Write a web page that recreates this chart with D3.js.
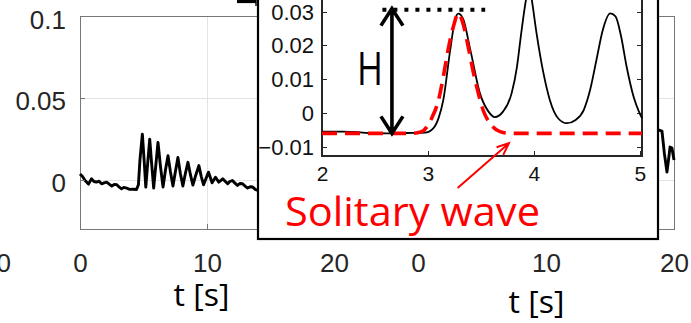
<!DOCTYPE html>
<html>
<head>
<meta charset="utf-8">
<script src="https://cdn.jsdelivr.net/npm/d3@7"></script>
<style>
  html, body { margin: 0; padding: 0; background: #fff; }
  svg { display: block; }
  .tick line { shape-rendering: crispEdges; }
</style>
</head>
<body>
<div id="chart"></div>
<script>
// ---- data ----
// left record (t in s, elevation in m)
var leftTime = [0, 0.2, 0.4, 0.67, 0.9, 1.1, 1.3, 1.5, 1.7, 1.9, 2.1, 2.3, 2.5, 2.7, 2.9, 3.1, 3.27, 3.45, 3.66, 3.9,
    4.2, 4.45, 4.6, 4.72, 4.91, 5.05, 5.18, 5.33, 5.49, 5.64, 5.8, 5.97, 6.14, 6.34, 6.54, 6.73, 6.93, 7.12, 7.32,
    7.51, 7.71, 7.9, 8.1, 8.3, 8.5, 8.7, 8.89, 9.12, 9.36, 9.55, 9.73, 9.93, 10.12, 10.4, 10.67, 10.93, 11.24,
    11.45, 11.63, 11.8, 12.0, 12.2, 12.4, 12.6, 12.8, 13.0, 13.2, 13.4, 13.6, 13.8, 14.0, 14.4];
var leftElev = [0.0036, 0.002, -0.0004, -0.0026, 0.0006, -0.001, -0.0014, -0.0008, -0.0024, -0.0018, -0.0014, -0.0026,
    -0.0038, -0.0028, -0.003, -0.0045, -0.0055, -0.0046, -0.005, -0.0058, -0.0057, -0.0059, -0.003, 0.012, 0.0279,
    0.012, -0.0044, 0.010, 0.0248, 0.010, -0.005, 0.009, 0.0228, 0.008, -0.0044, 0.006, 0.0147, 0.005, -0.0038,
    0.005, 0.0137, 0.004, -0.0038, 0.004, 0.0107, 0.003, -0.0032, 0.003, 0.0087, 0.002, -0.003, 0.001, 0.0047,
    -0.0018, 0.0016, -0.0014, 0.0006, -0.001, -0.0024, -0.001, -0.0004, -0.002, -0.0034, -0.0022, -0.0024,
    -0.0038, -0.005, -0.0042, -0.0044, -0.0058, -0.0065, -0.006];
// right record, only the tail is visible next to the inset
var rightTime = [18.3, 18.6, 18.83, 19.06, 19.25, 19.45, 19.6, 19.69, 19.84, 20];
var rightElev = [0.026, 0.029, 0.0304, 0.0298, 0.016, 0.0048, 0.014, 0.020, 0.0194, 0.0121];
// inset: measured record, zoomed on t = 2..5 s
var insetTime = [2.0, 2.2, 2.36, 2.5, 2.66, 2.8, 2.97, 3.05, 3.1, 3.145, 3.21, 3.255, 3.286, 3.33, 3.4, 3.49, 3.57,
    3.63, 3.71, 3.79, 3.84, 3.88, 3.925, 3.955, 3.98, 4.025, 4.09, 4.15, 4.23, 4.31, 4.39, 4.47, 4.53, 4.59,
    4.65, 4.72, 4.77, 4.82, 4.875, 4.94, 4.99, 5.02];
var insetElev = [-0.0055, -0.0055, -0.0057, -0.006, -0.006, -0.0059, -0.0058, -0.0045, -0.0015, 0.0039, 0.0187,
    0.0275, 0.0294, 0.028, 0.0187, 0.0059, 0.0005, -0.0012, 0.0005, 0.0059, 0.0137, 0.0236, 0.0335, 0.038,
    0.0335, 0.0236, 0.0118, 0.0039, -0.0016, -0.003, -0.0021, 0.0009, 0.0068, 0.0157, 0.0246, 0.0295, 0.0286,
    0.0231, 0.0137, 0.0049, 0.0005, -0.0015];
// inset: fitted solitary wave
var solTime = [2.0, 2.5, 2.85, 2.94, 3.035, 3.1, 3.145, 3.19, 3.24, 3.286, 3.33, 3.38, 3.43, 3.475, 3.52, 3.585,
    3.68, 3.77, 4.2, 5.02];
var solElev = [-0.006, -0.006, -0.006, -0.0055, -0.0015, 0.0039, 0.0108, 0.0187, 0.0256, 0.0295, 0.0266, 0.0196,
    0.0118, 0.0059, 0.0009, -0.003, -0.0055, -0.006, -0.006, -0.006];
// wave height annotation (H) : crest level, trough level, t of arrow, extent of dotted line
var hCrest = 0.0306, hTrough = -0.006, hTime = 2.66, hLineFrom = 2.57, hLineTo = 3.54;
// tick labels
var mainXTicks = [0, 10, 20];
var mainYTicks = [0, 0.05, 0.1];
var insetXTicks = [2, 3, 4, 5];
var insetYTicks = [-0.01, 0, 0.01, 0.02, 0.03];

var width = 691, height = 323;
var tickFont = "'Liberation Sans', Arial, sans-serif";
var labelFont = "'Open Sans', 'Noto Sans', sans-serif";
var fmt = d3.format('~g');

var svg = d3.select('#chart').append('svg')
    .attr('width', width)
    .attr('height', height);
svg.append('rect').attr('width', width).attr('height', height).attr('fill', '#fff');

// scales (both main panels share the same y range)
var y = d3.scaleLinear().domain([-0.03, 0.1]).range([229, 16]);
var xLeft = d3.scaleLinear().domain([0, 20]).range([80, 334]);
var xRight = d3.scaleLinear().domain([0, 20]).range([418, 674]);
var xPrev = d3.scaleLinear().domain([0, 20]).range([-258, -4]); // panel cut off on the left

function zip(ts, vs) { return ts.map(function (t, i) { return [t, vs[i]]; }); }

function drawPanel(xs, time, elev) {
    var g = svg.append('g');
    var x0 = xs.range()[0], x1 = xs.range()[1];
    // grid
    g.append('g')
        .attr('transform', 'translate(0,' + y.range()[0] + ')')
        .call(d3.axisBottom(xs).tickValues(mainXTicks).tickSize(-(y.range()[0] - y.range()[1])).tickFormat(''))
        .call(function (a) { a.select('.domain').remove(); a.selectAll('line').attr('stroke', '#e3e3e3'); });
    g.append('g')
        .attr('transform', 'translate(' + x0 + ',0)')
        .call(d3.axisLeft(y).tickValues(mainYTicks).tickSize(-(x1 - x0)).tickFormat(''))
        .call(function (a) { a.select('.domain').remove(); a.selectAll('line').attr('stroke', '#e3e3e3'); });
    // box
    g.append('rect')
        .attr('x', x0).attr('y', y.range()[1])
        .attr('width', x1 - x0).attr('height', y.range()[0] - y.range()[1])
        .attr('fill', 'none').attr('stroke', '#777').attr('stroke-width', 1)
        .attr('shape-rendering', 'crispEdges');
    // record
    g.append('path')
        .datum(zip(time, elev))
        .attr('fill', 'none')
        .attr('stroke', '#000')
        .attr('stroke-width', 2.9)
        .attr('stroke-linejoin', 'round')
        .attr('d', d3.line().x(function (d) { return xs(d[0]); }).y(function (d) { return y(d[1]); }));
    // x tick labels
    g.append('g')
        .attr('transform', 'translate(0,' + y.range()[0] + ')')
        .call(d3.axisBottom(xs).tickValues(mainXTicks).tickSize(-5).tickFormat(fmt))
        .call(function (a) {
            a.select('.domain').remove();
            a.selectAll('line').attr('stroke', '#777');
            a.selectAll('text').attr('dy', null).attr('y', 43)
                .attr('fill', '#262626').style('font', '26px ' + tickFont);
        });
    return g;
}

drawPanel(xLeft, leftTime, leftElev);
drawPanel(xRight, rightTime, rightElev);

// y tick labels of the left panel
svg.append('g')
    .attr('transform', 'translate(' + xLeft.range()[0] + ',0)')
    .call(d3.axisLeft(y).tickValues(mainYTicks).tickSize(-5).tickPadding(14).tickFormat(fmt))
    .call(function (a) {
        a.select('.domain').remove();
        a.selectAll('line').attr('stroke', '#777');
        a.selectAll('text').attr('dy', null).attr('y', 12)
            .attr('fill', '#262626').style('font', '26px ' + tickFont);
    });

// last label of the panel that is cut off on the left
svg.append('g')
    .attr('transform', 'translate(0,' + y.range()[0] + ')')
    .call(d3.axisBottom(xPrev).tickValues([20]).tickSize(0).tickFormat(fmt))
    .call(function (a) {
        a.select('.domain').remove();
        a.selectAll('text').attr('dy', null).attr('y', 43)
            .attr('fill', '#262626').style('font', '26px ' + tickFont);
    });

// axis titles
svg.append('text').attr('x', 201.5).attr('y', 306).attr('text-anchor', 'middle')
    .attr('textLength', 56).attr('lengthAdjust', 'spacingAndGlyphs')
    .style('font', '31px ' + labelFont).attr('fill', '#000').text('t [s]');
svg.append('text').attr('x', 536.5).attr('y', 313).attr('text-anchor', 'middle')
    .attr('textLength', 56).attr('lengthAdjust', 'spacingAndGlyphs')
    .style('font', '31px ' + labelFont).attr('fill', '#000').text('t [s]');

// ---- inset ----
var inset = svg.append('g');
inset.append('rect')
    .attr('x', 258).attr('y', -10).attr('width', 400).attr('height', 249)
    .attr('fill', '#fff').attr('stroke', '#000').attr('stroke-width', 2.2);
// little piece of another frame at the top left corner
svg.append('path').attr('d', 'M237,1.5H256').attr('stroke', '#000').attr('stroke-width', 3.2).attr('fill', 'none');
svg.append('path').attr('d', 'M256,0V6').attr('stroke', '#000').attr('stroke-width', 1.4).attr('fill', 'none');

var xi = d3.scaleLinear().domain([2, 5.02]).range([322, 642]);
var yi = d3.scaleLinear().domain([-0.0127, 0.045]).range([156, 156 - 0.0577 * 3380]);

inset.append('g')
    .attr('transform', 'translate(0,' + yi.range()[0] + ')')
    .call(d3.axisBottom(xi).tickValues(insetXTicks).tickSize(-5).tickFormat(fmt))
    .call(function (a) {
        a.select('.domain').remove();
        a.selectAll('line').attr('stroke', '#262626');
        a.selectAll('text').attr('dy', null).attr('y', 25)
            .attr('fill', '#111').style('font', '21px ' + tickFont);
    });
inset.append('g')
    .attr('transform', 'translate(' + xi.range()[0] + ',0)')
    .call(d3.axisLeft(yi).tickValues(insetYTicks).tickSize(-5).tickPadding(8).tickFormat(fmt))
    .call(function (a) {
        a.select('.domain').remove();
        a.selectAll('line').attr('stroke', '#262626');
        a.selectAll('text').attr('dy', null).attr('y', 7.5)
            .attr('fill', '#111').style('font', '22px ' + tickFont);
    });
inset.append('g')
    .attr('transform', 'translate(' + xi.range()[1] + ',0)')
    .call(d3.axisRight(yi).tickValues(insetYTicks).tickSize(-5).tickFormat(''))
    .call(function (a) { a.select('.domain').remove(); a.selectAll('line').attr('stroke', '#262626'); });
// inset box (top edge is above the picture)
inset.append('path')
    .attr('d', 'M' + xi.range()[0] + ',-5V' + yi.range()[0] + 'H' + xi.range()[1] + 'V-5')
    .attr('fill', 'none').attr('stroke', '#262626').attr('stroke-width', 1.2)
    .attr('shape-rendering', 'crispEdges');

var lineI = d3.line()
    .x(function (d) { return xi(d[0]); })
    .y(function (d) { return yi(d[1]); })
    .curve(d3.curveMonotoneX);

inset.append('path')
    .datum(zip(insetTime, insetElev))
    .attr('fill', 'none').attr('stroke', '#000').attr('stroke-width', 1.8)
    .attr('d', lineI);
inset.append('path')
    .datum(zip(solTime, solElev))
    .attr('fill', 'none').attr('stroke', '#ff0000').attr('stroke-width', 3.6)
    .attr('stroke-dasharray', '15,8')
    .attr('d', lineI);

// H annotation: dotted crest level and double arrow
inset.append('line')
    .attr('x1', xi(hLineFrom)).attr('x2', xi(hLineTo))
    .attr('y1', yi(hCrest)).attr('y2', yi(hCrest))
    .attr('stroke', '#000').attr('stroke-width', 4).attr('stroke-dasharray', '4,7');
var ax = xi(hTime), ayTop = yi(hCrest) - 1, ayBot = yi(hTrough);
inset.append('path')
    .attr('d', 'M' + ax + ',' + ayTop + 'V' + ayBot +
        'M' + (ax - 11) + ',' + (ayTop + 17) + 'L' + ax + ',' + ayTop + 'L' + (ax + 11) + ',' + (ayTop + 17) +
        'M' + (ax - 11) + ',' + (ayBot - 17) + 'L' + ax + ',' + ayBot + 'L' + (ax + 11) + ',' + (ayBot - 17))
    .attr('fill', 'none').attr('stroke', '#000').attr('stroke-width', 3.6)
    .attr('stroke-linejoin', 'miter').attr('stroke-linecap', 'butt');
inset.append('text')
    .attr('x', 357).attr('y', 85)
    .attr('textLength', 26).attr('lengthAdjust', 'spacingAndGlyphs')
    .style('font', '45px ' + labelFont).attr('fill', '#000').text('H');

// red pointer to the solitary wave
var tail = [xi(3.28), yi(-0.0222)], head = [xi(3.764), yi(-0.0089)];
var ang = Math.atan2(head[1] - tail[1], head[0] - tail[0]);
function arm(a) { return [head[0] - 13 * Math.cos(ang + a), head[1] - 13 * Math.sin(ang + a)]; }
var a1 = arm(0.4), a2 = arm(-0.4);
inset.append('path')
    .attr('d', 'M' + tail + 'L' + head + 'M' + a1 + 'L' + head + 'L' + a2)
    .attr('fill', 'none').attr('stroke', '#ff0000').attr('stroke-width', 2);
inset.append('text')
    .attr('x', 285).attr('y', 226)
    .attr('textLength', 255).attr('lengthAdjust', 'spacingAndGlyphs')
    .style('font', '41px ' + labelFont).attr('fill', '#ff0000').text('Solitary wave');
</script>
</body>
</html>
